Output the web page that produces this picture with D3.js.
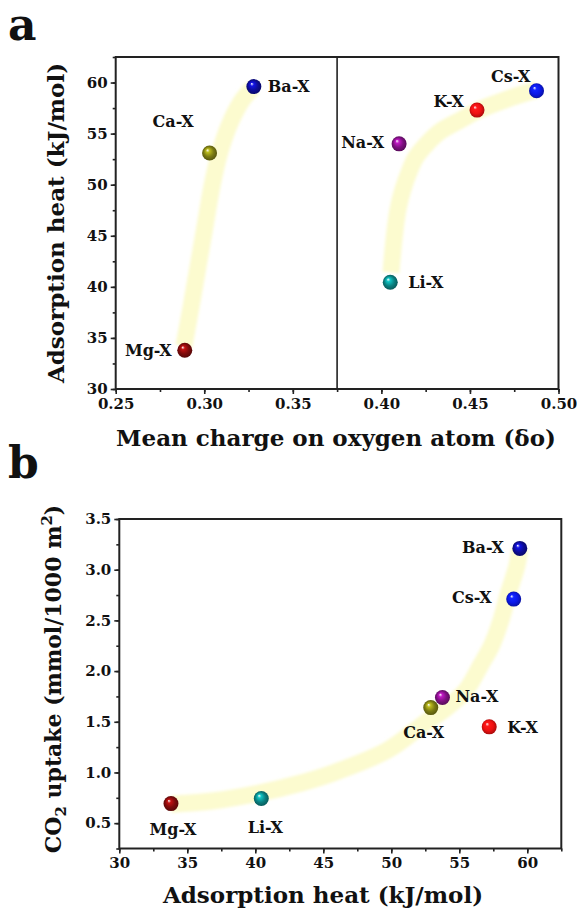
<!DOCTYPE html>
<html lang="en">
<head>
<meta charset="utf-8">
<title>Adsorption heat vs charge and CO2 uptake</title>
<script src="https://cdn.jsdelivr.net/npm/d3@7"></script>
<style>
  body { margin: 0; background: #fff; }
  svg text { font-family: "DejaVu Serif", serif; font-weight: bold; fill: #111; }
  .axis path, .axis line { stroke: #222; stroke-width: 1.6px; }
  .axis text { font-size: 15px; }
  .lbl { font-size: 16px; }
  .title { font-size: 23px; }
  .panel { font-size: 44px; }
</style>
</head>
<body>
<script>
// ---- data ----
var cations = ["Mg-X", "Ca-X", "Ba-X", "Li-X", "Na-X", "K-X", "Cs-X"];
var colors  = ["#7d0b0b", "#7a7a12", "#0c0c96", "#0a8080", "#7d1080", "#ee1111", "#0b18e6"];
// panel a
var charge  = [0.289, 0.303, 0.328, 0.405, 0.410, 0.454, 0.4876];
var heat    = [33.8, 53.1, 59.6, 40.45, 54.0, 57.3, 59.2];
// panel b
var heatB   = [33.8, 52.9, 59.45, 40.44, 53.76, 57.2, 59.0];
var uptake  = [0.693, 1.64, 3.21, 0.743, 1.74, 1.45, 2.71];

// guide bands (hand drawn trends, data units)
var bandA1 = [[0.2885, 34.2], [0.2925, 38], [0.2965, 42], [0.3005, 46], [0.3045, 50],
              [0.3085, 53], [0.3145, 56], [0.3215, 58.3], [0.3275, 59.5]];
var bandA2 = [[0.4054, 41.4], [0.4071, 44.6], [0.4093, 47.5], [0.4121, 49.5], [0.416, 51.4],
              [0.4195, 52.7], [0.4262, 54.1], [0.433, 55.2], [0.4443, 56.3], [0.455, 57.3],
              [0.4697, 58.3], [0.4878, 59.3]];
var bandB  = [[33.81, 0.687], [36.68, 0.716], [40.22, 0.795], [43.3, 0.894], [45.67, 0.993],
              [49.73, 1.22], [52.45, 1.486], [53.85, 1.615], [55.48, 1.81], [56.58, 2.06],
              [57.39, 2.256], [58.06, 2.50], [58.64, 2.78], [59.23, 3.036], [59.45, 3.204]];

var xTicksA = [0.25, 0.30, 0.35, 0.40, 0.45, 0.50];
var yTicksA = [30, 35, 40, 45, 50, 55, 60];
var xTicksB = [30, 35, 40, 45, 50, 55, 60];
var yTicksB = [0.5, 1.0, 1.5, 2.0, 2.5, 3.0, 3.5];

// label placement (pixels relative to the sphere)
var labA = {
  "Mg-X": [-13, 6, "end"], "Ca-X": [-16, -26, "end"], "Ba-X": [14, 5, "start"],
  "Li-X": [18, 6, "start"], "Na-X": [-15, 4, "end"], "K-X": [-13, -3, "end"], "Cs-X": [-6, -9, "end"]
};
var labB = {
  "Mg-X": [2, 31, "middle"], "Ca-X": [-7, 30, "middle"], "Ba-X": [-16, 5, "end"],
  "Li-X": [4, 34, "middle"], "Na-X": [13, 5, "start"], "K-X": [18, 6, "start"], "Cs-X": [-22, 4, "end"]
};

var W = 577, H = 908;
var svg = d3.select("body").append("svg").attr("width", W).attr("height", H);
var defs = svg.append("defs");

// sphere gradients
cations.forEach(function(c, i) {
  var base = d3.color(colors[i]);
  var g = defs.append("radialGradient").attr("id", "sph" + i)
    .attr("cx", "50%").attr("cy", "50%").attr("r", "55%")
    .attr("fx", "35%").attr("fy", "30%");
  g.append("stop").attr("offset", "0%").attr("stop-color", "#ffffff");
  g.append("stop").attr("offset", "22%").attr("stop-color", base.brighter(1.2).formatHex());
  g.append("stop").attr("offset", "60%").attr("stop-color", base.formatHex());
  g.append("stop").attr("offset", "100%").attr("stop-color", base.darker(1.2).formatHex());
});
defs.append("filter").attr("id", "soft").attr("x", "-20%").attr("y", "-20%").attr("width", "140%").attr("height", "140%")
  .append("feGaussianBlur").attr("stdDeviation", 1.4);

function panel(opt) {
  var g = svg.append("g");
  var x = d3.scaleLinear().domain(opt.xd).range([opt.left, opt.right]);
  var y = d3.scaleLinear().domain(opt.yd).range([opt.bottom, opt.top]);

  // bands
  var line = d3.line().x(function(d) { return x(d[0]); }).y(function(d) { return y(d[1]); })
    .curve(d3.curveCatmullRom.alpha(0.5));
  opt.bands.forEach(function(b) {
    g.append("path").attr("d", line(b))
      .attr("fill", "none").attr("stroke", "#fcfbcf").attr("stroke-width", 17)
      .attr("stroke-linecap", "butt").attr("filter", "url(#soft)");
  });

  // axes
  var xMinor = d3.range(opt.xd[0], opt.xd[1] + 1e-9, opt.xMinorStep);
  var yMinor = d3.range(opt.yd[0], opt.yd[1] + 1e-9, opt.yMinorStep);
  g.append("g").attr("class", "axis").attr("transform", "translate(0," + opt.bottom + ")")
    .call(d3.axisBottom(x).tickValues(xMinor).tickSize(3).tickFormat(""))
    .call(function(s) { s.select(".domain").remove(); });
  g.append("g").attr("class", "axis").attr("transform", "translate(" + opt.left + ",0)")
    .call(d3.axisLeft(y).tickValues(yMinor).tickSize(3).tickFormat(""))
    .call(function(s) { s.select(".domain").remove(); });
  g.append("g").attr("class", "axis").attr("transform", "translate(0," + opt.bottom + ")")
    .call(d3.axisBottom(x).tickValues(opt.xTicks).tickSize(5).tickPadding(4).tickFormat(opt.xFmt))
    .call(function(s) { s.select(".domain").remove(); });
  g.append("g").attr("class", "axis").attr("transform", "translate(" + opt.left + ",0)")
    .call(d3.axisLeft(y).tickValues(opt.yTicks).tickSize(5).tickPadding(3).tickFormat(opt.yFmt))
    .call(function(s) { s.select(".domain").remove(); });

  // frame
  g.append("rect").attr("x", opt.left).attr("y", opt.top)
    .attr("width", opt.right - opt.left).attr("height", opt.bottom - opt.top)
    .attr("fill", "none").attr("stroke", "#222").attr("stroke-width", 2);
  if (opt.split != null) {
    g.append("line").attr("x1", x(opt.split)).attr("x2", x(opt.split))
      .attr("y1", opt.top).attr("y2", opt.bottom).attr("stroke", "#222").attr("stroke-width", 1.6);
  }

  // spheres + labels
  cations.forEach(function(c, i) {
    var px = x(opt.xs[i]), py = y(opt.ys[i]);
    g.append("circle").attr("cx", px).attr("cy", py).attr("r", 7.5).attr("fill", "url(#sph" + i + ")");
    var l = opt.labels[c];
    g.append("text").attr("class", "lbl").attr("x", px + l[0]).attr("y", py + l[1])
      .attr("text-anchor", l[2]).text(c);
  });
  return {x: x, y: y};
}

// panel a
panel({
  left: 115.7, right: 558.5, top: 57, bottom: 389,
  xd: [0.25, 0.50], yd: [30, 62.5], xMinorStep: 0.025, yMinorStep: 2.5,
  xTicks: xTicksA, yTicks: yTicksA, xFmt: d3.format(".2f"), yFmt: d3.format("d"),
  xs: charge, ys: heat, bands: [bandA1, bandA2], labels: labA, split: 0.375
});
// panel b
panel({
  left: 119.3, right: 561.3, top: 519, bottom: 848.5,
  xd: [30, 62.5], yd: [0.25, 3.5], xMinorStep: 2.5, yMinorStep: 0.25,
  xTicks: xTicksB, yTicks: yTicksB, xFmt: d3.format("d"), yFmt: d3.format(".1f"),
  xs: heatB, ys: uptake, bands: [bandB], labels: labB, split: null
});

// panel letters
svg.append("text").attr("class", "panel").attr("x", 8).attr("y", 40).text("a");
svg.append("text").attr("class", "panel").attr("x", 8).attr("y", 478).text("b");

// axis titles
svg.append("text").attr("class", "title").attr("x", 336).attr("y", 446)
  .attr("text-anchor", "middle").text("Mean charge on oxygen atom (δo)");
svg.append("text").attr("class", "title").attr("transform", "translate(64,223) rotate(-90)")
  .attr("text-anchor", "middle").text("Adsorption heat (kJ/mol)");
svg.append("text").attr("class", "title").attr("x", 323).attr("y", 903)
  .attr("text-anchor", "middle").text("Adsorption heat (kJ/mol)");
var yt = svg.append("text").attr("class", "title").style("font-size", "22px")
  .attr("transform", "translate(61,679) rotate(-90)")
  .attr("text-anchor", "middle");
yt.append("tspan").text("CO");
yt.append("tspan").attr("font-size", "15px").attr("dy", 5).text("2");
yt.append("tspan").attr("dy", -5).text(" uptake (mmol/1000 m");
yt.append("tspan").attr("font-size", "15px").attr("dy", -9).text("2");
yt.append("tspan").attr("dy", 9).text(")");
</script>
</body>
</html>
